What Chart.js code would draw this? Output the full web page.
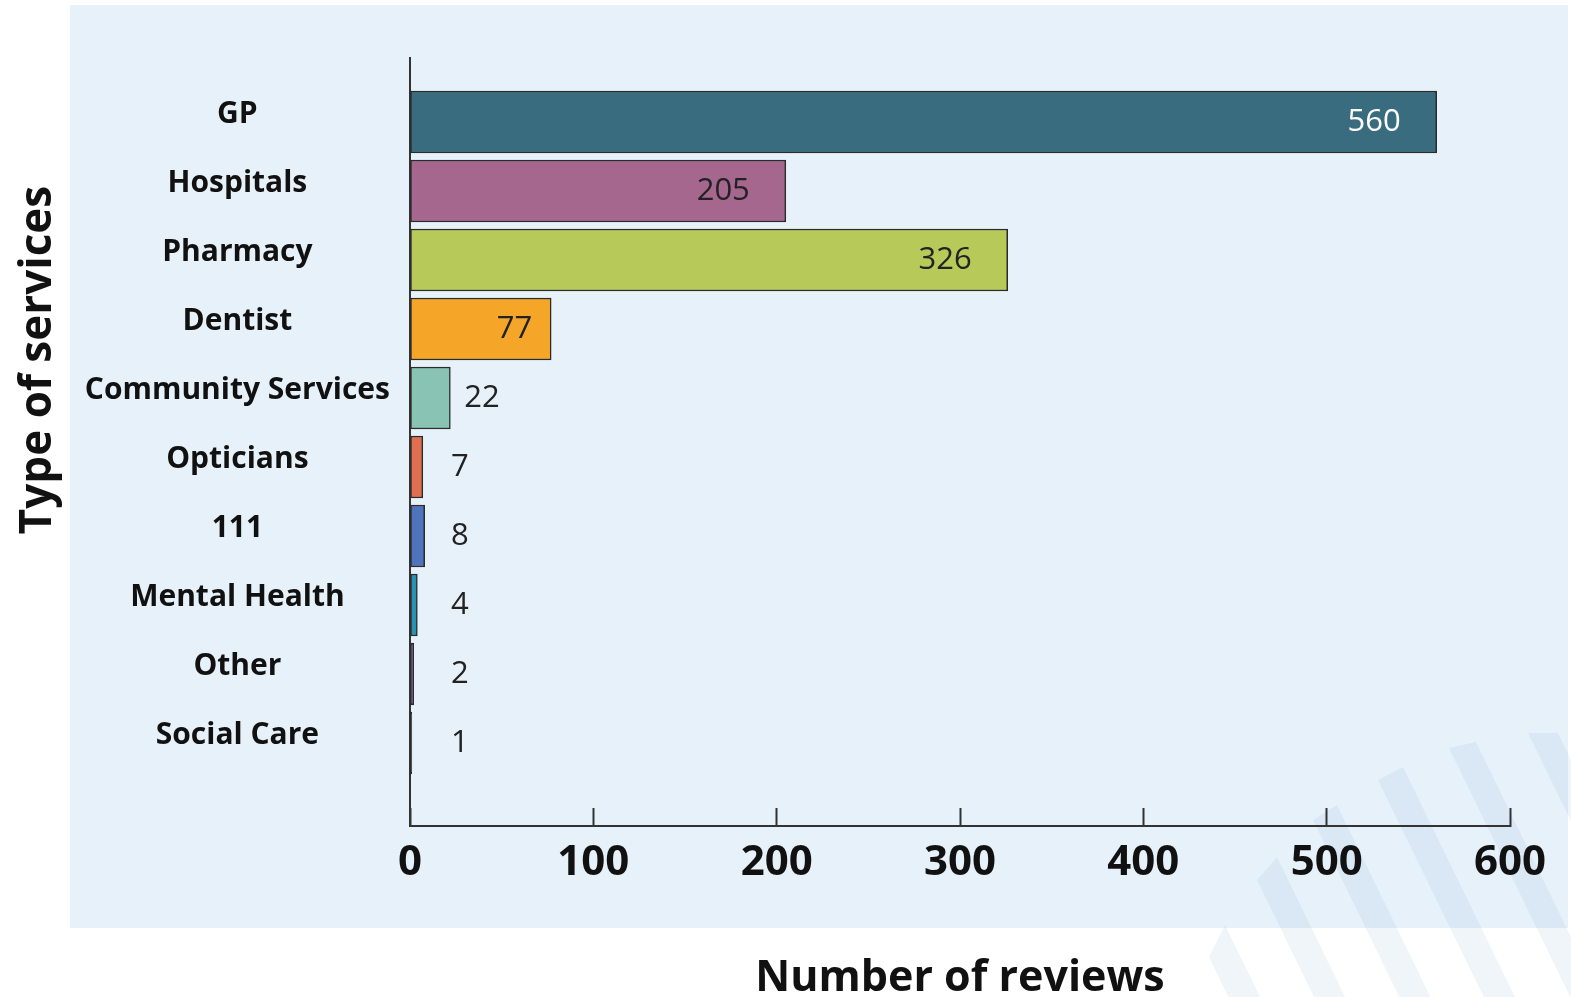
<!DOCTYPE html>
<html>
<head>
<script src="https://cdn.jsdelivr.net/npm/chart.js"></script>
<style>
  html, body { margin: 0; padding: 0; background: #fff; }
  #wrap { width: 1571px; height: 997px; }
</style>
</head>
<body>
<div id="wrap"><canvas id="chart"></canvas></div>
<script>
const categories = ['GP', 'Hospitals', 'Pharmacy', 'Dentist', 'Community Services', 'Opticians', '111', 'Mental Health', 'Other', 'Social Care'];
const reviews = [560, 205, 326, 77, 22, 7, 8, 4, 2, 1];
const barColors = ['#3a6c80', '#a6678f', '#b7ca59', '#f5a628', '#89c3b3', '#df6f50', '#4f73bd', '#2992b0', '#6a3f8e', '#1e1e1e'];
const xTicks = [0, 100, 200, 300, 400, 500, 600];

const FONT = "'Open Sans', 'DejaVu Sans', sans-serif";

// light blue panel + the faint diagonal stripes in the corner
const backdrop = {
    id: 'backdrop',
    beforeDraw(chart) {
        const ctx = chart.ctx;
        ctx.save();
        ctx.fillStyle = '#fff';
        ctx.fillRect(0, 0, chart.width, chart.height);
        ctx.fillStyle = '#e7f1fa';
        ctx.fillRect(70, 5, 1498, 923);
        const bands = [
            [1209, 957, 1225, 925],
            [1257, 880, 1277, 857],
            [1313, 820, 1337, 805],
            [1378, 780, 1403, 767],
            [1449, 748, 1476, 742],
            [1528, 733, 1558, 733]
        ];
        const k = 0.487;
        ctx.fillStyle = 'rgba(110, 160, 210, 0.1)';
        bands.forEach(([ax, ay, bx, by]) => {
            ctx.beginPath();
            ctx.moveTo(ax, ay);
            ctx.lineTo(bx, by);
            ctx.lineTo(bx + (1000 - by) * k, 1000);
            ctx.lineTo(ax + (1000 - ay) * k, 1000);
            ctx.closePath();
            ctx.fill();
        });
        ctx.restore();
    },
    afterDraw(chart) {
        const ctx = chart.ctx;
        ctx.save();
        ctx.translate(38, 360);
        ctx.rotate(-Math.PI / 2);
        ctx.font = 'bold 44px ' + FONT;
        ctx.fillStyle = '#111';
        ctx.textAlign = 'center';
        ctx.textBaseline = 'middle';
        ctx.fillText('Type of services', 0, 0);
        ctx.restore();
    }
};

// value numbers next to / inside the bars
const valueLabels = {
    id: 'valueLabels',
    afterDatasetsDraw(chart) {
        const ctx = chart.ctx;
        const meta = chart.getDatasetMeta(0);
        ctx.save();
        ctx.font = '31px ' + FONT;
        ctx.textBaseline = 'middle';
        meta.data.forEach((bar, i) => {
            const v = reviews[i];
            if (v >= 50) {
                ctx.textAlign = 'right';
                ctx.fillStyle = i === 0 ? '#fff' : '#222';
                ctx.fillText(String(v), bar.x - (v >= 100 ? 36 : 19), bar.y);
            } else {
                ctx.textAlign = 'left';
                ctx.fillStyle = '#222';
                ctx.fillText(String(v), Math.max(bar.x + 14, 451), bar.y);
            }
        });
        ctx.restore();
    }
};

new Chart(document.getElementById('chart'), {
    type: 'bar',
    data: {
        datasets: [{
            data: reviews.map((v, i) => ({ x: v, y: i })),
            backgroundColor: barColors,
            borderColor: '#2b2b2b',
            borderWidth: 1.5,
            borderSkipped: false,
            barThickness: 62
        }]
    },
    options: {
        indexAxis: 'y',
        responsive: true,
        maintainAspectRatio: false,
        animation: false,
        layout: { padding: { left: 80, right: 61, top: 58, bottom: 0 } },
        plugins: {
            legend: { display: false },
            tooltip: {
                callbacks: { title: items => categories[items[0].raw.y] }
            }
        },
        scales: {
            x: {
                type: 'linear',
                min: xTicks[0],
                max: xTicks[xTicks.length - 1],
                afterFit: s => {
                    s.height = 171;
                    s.paddingLeft = 0;
                    s.paddingRight = 0;
                },
                ticks: {
                    stepSize: xTicks[1] - xTicks[0],
                    font: { family: FONT, size: 42, weight: 'bold' },
                    color: '#111',
                    padding: 30,
                    maxRotation: 0
                },
                grid: {
                    drawOnChartArea: false,
                    drawTicks: true,
                    tickLength: -18,
                    tickColor: '#333',
                    tickWidth: 2
                },
                border: { color: '#333', width: 2 },
                title: {
                    display: true,
                    text: 'Number of reviews',
                    font: { family: FONT, size: 43, weight: 'bold' },
                    color: '#111',
                    padding: { top: 0, bottom: -8 }
                }
            },
            y: {
                type: 'linear',
                offset: false,
                reverse: true,
                min: -0.928,
                max: 10.203,
                afterFit: s => { s.width = 330; },
                ticks: {
                    stepSize: 1,
                    autoSkip: false,
                    callback: v => Number.isInteger(v) && categories[v] !== undefined ? categories[v] : '',
                    font: { family: FONT, size: 30, weight: 'bold' },
                    color: '#111',
                    crossAlign: 'center',
                    padding: 20,
                    labelOffset: -8
                },
                grid: { display: false, drawTicks: false },
                border: { color: '#333', width: 2 }
            }
        }
    },
    plugins: [backdrop, valueLabels]
});
</script>
</body>
</html>
